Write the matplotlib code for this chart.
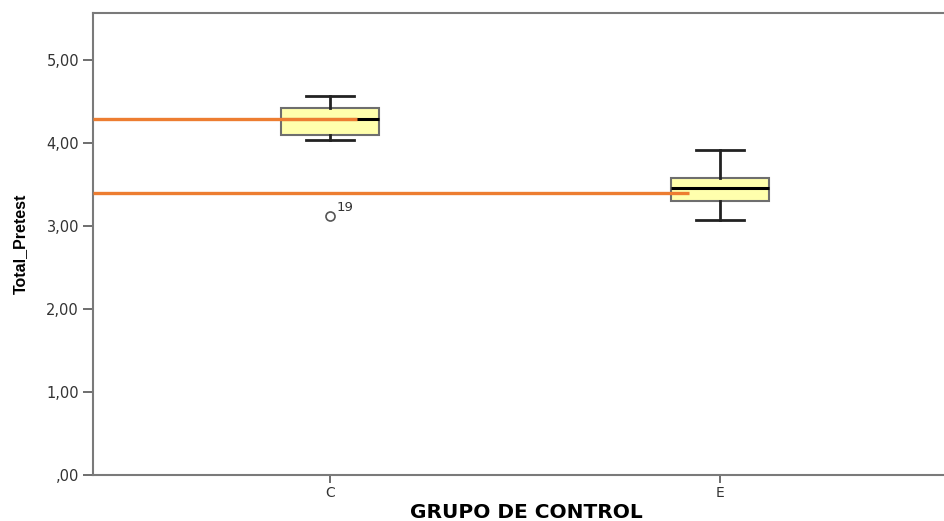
import numpy as np
import matplotlib.pyplot as plt

# grupos y resumen de cinco números (lectura del gráfico)
groups = ['C', 'E']
whisker_low = [4.04, 3.08]
q1 = [4.10, 3.30]
medians = [4.29, 3.46]
q3 = [4.42, 3.58]
whisker_high = [4.57, 3.92]
outliers = [[3.12], []]
outlier_ids = [['19'], []]

# líneas naranjas (medias) y hasta dónde llegan en el eje x
mean_values = [4.29, 3.40]
mean_ends = [1.07, 1.92]

plt.rcParams['font.family'] = ['DejaVu Sans']

fig = plt.figure(figsize=(9.45, 5.21), dpi=100)
ax = fig.add_axes([93 / 945, 46 / 521, 1 - 93 / 945, 462 / 521])

pos = np.arange(1, len(groups) + 1)
stats = []
for i, g in enumerate(groups):
    stats.append({'label': g, 'whislo': whisker_low[i], 'q1': q1[i], 'med': medians[i],
                  'q3': q3[i], 'whishi': whisker_high[i], 'fliers': outliers[i]})

ax.bxp(stats, positions=pos, widths=0.25, patch_artist=True, showfliers=True,
       boxprops=dict(facecolor='#ffffad', edgecolor='#6e6e6e', linewidth=1.5),
       medianprops=dict(color='black', linewidth=2.2),
       whiskerprops=dict(color='#222222', linewidth=2),
       capprops=dict(color='#222222', linewidth=2),
       capwidths=0.125,
       flierprops=dict(marker='o', markerfacecolor='none', markeredgecolor='#555555',
                       markersize=6.5, markeredgewidth=1.2))

# etiquetas de casos atípicos
for i, vals in enumerate(outliers):
    for v, lab in zip(vals, outlier_ids[i]):
        ax.annotate(lab, (pos[i], v), xytext=(5, 4), textcoords='offset points',
                    fontsize=9.5, color='#333333')

xmin = 1 - 237 / 390
ax.set_xlim(xmin, 2 + 225 / 390)
ax.set_ylim(0, 5.57)

ax.hlines(mean_values, xmin, mean_ends, color='#ed7d31', linewidth=2.4, zorder=5)

ax.set_yticks([0, 1, 2, 3, 4, 5])
ax.set_yticklabels([',00', '1,00', '2,00', '3,00', '4,00', '5,00'])
ax.set_xticks(pos)
ax.set_xticklabels(groups)

for s in ['left', 'bottom', 'top']:
    ax.spines[s].set_color('#7a7a7a')
    ax.spines[s].set_linewidth(1.5)
ax.spines['right'].set_visible(False)
ax.tick_params(axis='y', length=7, width=1.2, color='#555555', labelsize=10.5, labelcolor='#333333', pad=3)
ax.tick_params(axis='x', length=6, width=1.2, color='#555555', labelsize=10, labelcolor='#333333', pad=2)

ax.set_ylabel('Total_Pretest', fontsize=11.5, fontweight='bold', family='Liberation Sans')
ax.yaxis.set_label_coords(-(93 - 28) / 852, 0.5)
ax.set_xlabel('GRUPO DE CONTROL', fontsize=14.5, fontweight='bold', va='center')
ax.xaxis.set_label_coords((526 - 93) / 852, -(513 - 475) / 462)

fig.savefig('out.png', dpi=100)
